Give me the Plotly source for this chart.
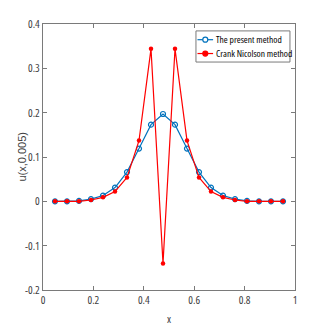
import plotly.graph_objects as go

# grid points x = i/21, i = 1..20
x = [i / 21 for i in range(1, 21)]

present = [0.0, 0.0, 0.001, 0.005, 0.013, 0.031, 0.066, 0.119, 0.173, 0.197,
           0.173, 0.119, 0.066, 0.031, 0.013, 0.005, 0.001, 0.0, 0.0, 0.0]
crank = [0.0, 0.0, 0.0, 0.003, 0.009, 0.022, 0.054, 0.137, 0.344, -0.14,
         0.344, 0.137, 0.054, 0.022, 0.009, 0.003, 0.0, 0.0, 0.0, 0.0]

names = ["The present method", "Crank Nicolson method"]
colors = ["#0072BD", "#FF0000"]

xticks = [0, 0.2, 0.4, 0.6, 0.8, 1]
xtick_text = ["0", "0.2", "0.4", "0.6", "0.8", "1"]
yticks = [-0.2, -0.1, 0, 0.1, 0.2, 0.3, 0.4]
ytick_text = ["-0.2", "-0.1", "0", "0.1", "0.2", "0.3", "0.4"]

font = "Open Sans, Liberation Sans, Arial"


def narrow(s):
    return '<span style="font-stretch:75%">' + s + '</span>'


fig = go.Figure()
fig.add_trace(go.Scatter(x=x, y=present, mode="lines+markers", name=names[0],
                         line=dict(color=colors[0], width=1.2),
                         marker=dict(symbol="circle-open", size=5, color=colors[0],
                                     line=dict(width=1.2))))
fig.add_trace(go.Scatter(x=x, y=crank, mode="lines+markers", name=names[1],
                         line=dict(color=colors[1], width=1.2),
                         marker=dict(symbol="circle", size=4.5, color=colors[1])))

axis_style = dict(showline=True, linecolor="#7a7a7a", linewidth=1, mirror="ticks",
                  ticks="inside", ticklen=4, tickcolor="#7a7a7a", showgrid=False,
                  zeroline=False, automargin=False,
                  tickfont=dict(family=font, size=11, color="#404040"))

fig.update_xaxes(range=[0, 1], tickvals=xticks, ticktext=[narrow(t) for t in xtick_text],
                 title=dict(text=narrow("x"), font=dict(family=font, size=11, color="#404040"), standoff=9),
                 **axis_style)
fig.update_yaxes(range=[-0.2, 0.4], tickvals=yticks, ticktext=[narrow(t) for t in ytick_text],
                 **axis_style)

# y axis label
fig.add_annotation(xref="paper", yref="paper", x=-0.085, y=0.5, textangle=-90,
                   xanchor="center", yanchor="middle", text="u(x,0.005)", showarrow=False,
                   font=dict(family="Liberation Sans, Arial", size=11, color="#404040"))

# compact MATLAB-style legend box (paper coordinates)
fig.add_shape(type="rect", xref="paper", yref="paper", x0=0.607, x1=0.98, y0=0.857, y1=0.974,
              line=dict(color="#7a7a7a", width=1), fillcolor="white", layer="above")
rows = [0.941, 0.889]
for k in range(2):
    fig.add_shape(type="line", xref="paper", yref="paper", x0=0.613, x1=0.675,
                  y0=rows[k], y1=rows[k], line=dict(color=colors[k], width=1.2), layer="above")
    fig.add_shape(type="circle", xref="paper", yref="paper", xsizemode="pixel", ysizemode="pixel",
                  xanchor=0.644, yanchor=rows[k], x0=-2.5, x1=2.5, y0=-2.5, y1=2.5,
                  line=dict(color=colors[k], width=1.2),
                  fillcolor="white" if k == 0 else colors[k], layer="above")
    fig.add_annotation(xref="paper", yref="paper", x=0.679, y=rows[k], xanchor="left",
                       yanchor="middle", text=narrow(names[k]), showarrow=False,
                       font=dict(family=font, size=9.5, color="black"))

fig.update_layout(width=327, height=327, plot_bgcolor="white", paper_bgcolor="white",
                  margin=dict(l=43, r=32, t=24, b=37), showlegend=False)

# drop the default page margin so the figure sits at the window's corner
fig.write_html("out.html", config={"displayModeBar": False},
               post_script="document.body.style.margin='0';")
